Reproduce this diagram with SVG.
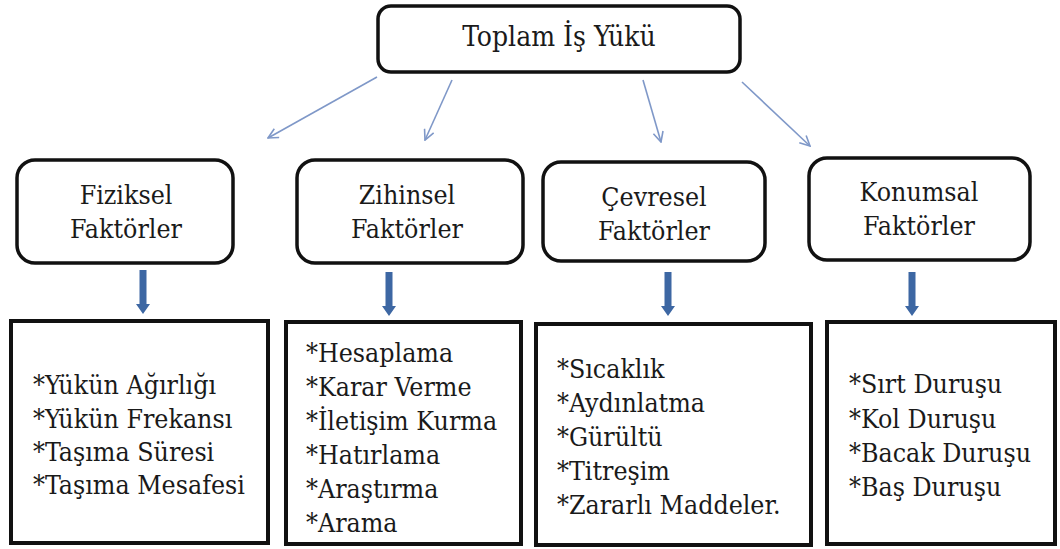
<svg xmlns="http://www.w3.org/2000/svg" width="1060" height="549" viewBox="0 0 1060 549">
<defs>
<style>
text{font-family:"DejaVu Serif Condensed","DejaVu Serif","Noto Serif",serif;font-stretch:condensed;fill:#1a1a1a}
.top{font-size:28px;text-anchor:middle}
.mid{font-size:26.5px;text-anchor:middle}
.lst{font-size:26.5px}
.rbox{fill:#fff;stroke:#111;stroke-width:3.5}
.sbox{fill:#fff;stroke:#111;stroke-width:4}
.thin{stroke:#7f98c8;stroke-width:1.6;fill:none;marker-end:url(#open)}
.thick{fill:#3d67a3}
</style>
<marker id="open" viewBox="0 0 12 12" refX="11" refY="6" markerWidth="12" markerHeight="12" markerUnits="userSpaceOnUse" orient="auto">
<path d="M1,1 L11,6 L1,11" fill="none" stroke="#7f98c8" stroke-width="1.6"/>
</marker>
<path id="dn" d="M-3.5,0 L3.5,0 L3.5,34 L7,34 L0,44 L-7,34 L-3.5,34 Z"/>
</defs>
<rect width="1060" height="549" fill="#fff"/>
<g id="connectors">
<line class="thin" x1="377" y1="77" x2="268" y2="138"/>
<line class="thin" x1="452" y1="80" x2="425" y2="140"/>
<line class="thin" x1="643" y1="80" x2="661" y2="142"/>
<line class="thin" x1="742" y1="82" x2="810" y2="146"/>
<use href="#dn" class="thick" x="143" y="270"/>
<use href="#dn" class="thick" x="389" y="272"/>
<use href="#dn" class="thick" x="668" y="272"/>
<use href="#dn" class="thick" x="912" y="272"/>
</g>
<g id="n-total">
<rect class="rbox" x="378" y="6" width="362" height="66" rx="13" stroke-width="4"/>
<text class="top" x="559" y="46">Toplam İş Yükü</text>
</g>
<g id="n-fiziksel">
<rect class="rbox" x="17" y="160" width="216" height="103" rx="18"/>
<text class="mid" x="126" y="204">Fiziksel</text>
<text class="mid" x="126" y="238">Faktörler</text>
</g>
<g id="n-zihinsel">
<rect class="rbox" x="297" y="160" width="226" height="103" rx="18"/>
<text class="mid" x="407" y="204">Zihinsel</text>
<text class="mid" x="407" y="238">Faktörler</text>
</g>
<g id="n-cevresel">
<rect class="rbox" x="543" y="162" width="222" height="99" rx="18"/>
<text class="mid" x="654" y="206">Çevresel</text>
<text class="mid" x="654" y="240">Faktörler</text>
</g>
<g id="n-konumsal">
<rect class="rbox" x="809" y="158" width="221" height="102" rx="18"/>
<text class="mid" x="919" y="201">Konumsal</text>
<text class="mid" x="919" y="235">Faktörler</text>
</g>
<g id="l-fiziksel">
<rect class="sbox" x="11" y="321" width="257" height="222"/>
<text class="lst" x="33" y="394">*Yükün Ağırlığı</text>
<text class="lst" x="33" y="428">*Yükün Frekansı</text>
<text class="lst" x="33" y="461">*Taşıma Süresi</text>
<text class="lst" x="33" y="494">*Taşıma Mesafesi</text>
</g>
<g id="l-zihinsel">
<rect class="sbox" x="286" y="322" width="235" height="222"/>
<text class="lst" x="306" y="362">*Hesaplama</text>
<text class="lst" x="306" y="396">*Karar Verme</text>
<text class="lst" x="306" y="430">*İletişim Kurma</text>
<text class="lst" x="306" y="464">*Hatırlama</text>
<text class="lst" x="306" y="498">*Araştırma</text>
<text class="lst" x="306" y="532">*Arama</text>
</g>
<g id="l-cevresel">
<rect class="sbox" x="536" y="324" width="275" height="221"/>
<text class="lst" x="557" y="378">*Sıcaklık</text>
<text class="lst" x="557" y="412">*Aydınlatma</text>
<text class="lst" x="557" y="446">*Gürültü</text>
<text class="lst" x="557" y="480">*Titreşim</text>
<text class="lst" x="557" y="514">*Zararlı Maddeler.</text>
</g>
<g id="l-konumsal">
<rect class="sbox" x="827" y="322" width="228" height="222"/>
<text class="lst" x="849" y="393">*Sırt Duruşu</text>
<text class="lst" x="849" y="428">*Kol Duruşu</text>
<text class="lst" x="849" y="462">*Bacak Duruşu</text>
<text class="lst" x="849" y="496">*Baş Duruşu</text>
</g>
</svg>
